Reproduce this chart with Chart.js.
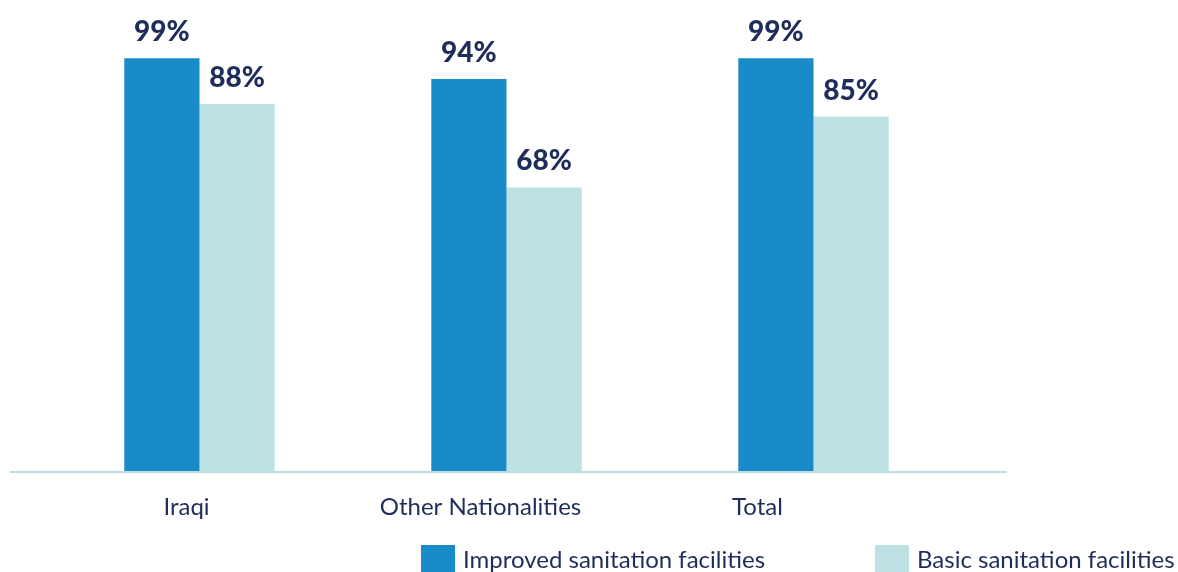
<!DOCTYPE html>
<html>
<head>
<meta charset="utf-8">
<script src="https://cdn.jsdelivr.net/npm/chart.js@4/dist/chart.umd.min.js"></script>
<style>
  html, body { margin: 0; padding: 0; background: #fff; overflow: hidden; }
  #wrap { position: relative; width: 1178px; height: 572px; }
</style>
</head>
<body>
<div id="wrap"><canvas id="barChart"></canvas></div>
<script>
// data
const categories = ['Iraqi', 'Other Nationalities', 'Total'];
const improvedValues = [99, 94, 99];
const basicValues = [88, 68, 85];
const seriesNames = ['Improved sanitation facilities', 'Basic sanitation facilities'];

const navy = '#1f2d5a';
const blue = '#1a8bc9';
const teal = '#bee1e3';
const fontFamily = 'Lato, "Open Sans", sans-serif';

// category labels sit a bit left of the bar pairs in the original
const labelShift = [-13, -26, -56];

// value labels above each bar
const valueLabels = {
  id: 'valueLabels',
  afterDatasetsDraw(chart) {
    const ctx = chart.ctx;
    ctx.save();
    ctx.fillStyle = navy;
    ctx.font = '900 28px ' + fontFamily;
    ctx.textAlign = 'center';
    ctx.textBaseline = 'bottom';
    chart.data.datasets.forEach((ds, i) => {
      chart.getDatasetMeta(i).data.forEach((bar, j) => {
        ctx.fillText(ds.data[j] + '%', bar.x, bar.y - 12);
      });
    });
    ctx.restore();
  }
};

// baseline, category labels and legend
const axisAndLegend = {
  id: 'axisAndLegend',
  afterDraw(chart) {
    const ctx = chart.ctx;
    const area = chart.chartArea;
    const xScale = chart.scales.x;
    ctx.save();

    ctx.strokeStyle = '#b9dfe1';
    ctx.lineWidth = 2;
    ctx.beginPath();
    ctx.moveTo(10, area.bottom + 1);
    ctx.lineTo(1007, area.bottom + 1);
    ctx.stroke();

    ctx.fillStyle = navy;
    ctx.font = '24px ' + fontFamily;
    ctx.textAlign = 'center';
    ctx.textBaseline = 'middle';
    categories.forEach((c, i) => {
      ctx.fillText(c, xScale.getPixelForValue(i) + labelShift[i], area.bottom + 36);
    });

    const legendX = [421, 875];
    ctx.textAlign = 'left';
    chart.data.datasets.forEach((ds, i) => {
      ctx.fillStyle = ds.backgroundColor;
      ctx.fillRect(legendX[i], 545, 34, 34);
      ctx.fillStyle = navy;
      ctx.fillText(ds.label, legendX[i] + 42, 560);
    });

    ctx.restore();
  }
};

new Chart(document.getElementById('barChart').getContext('2d'), {
  type: 'bar',
  data: {
    labels: categories,
    datasets: [
      { label: seriesNames[0], data: improvedValues, backgroundColor: blue },
      { label: seriesNames[1], data: basicValues, backgroundColor: teal }
    ]
  },
  options: {
    responsive: true,
    maintainAspectRatio: false,
    animation: false,
    layout: { padding: { top: 54, bottom: 101, left: 46, right: 211 } },
    datasets: { bar: { categoryPercentage: 0.49, barPercentage: 1 } },
    scales: {
      x: { display: false },
      y: { display: false, min: 0, max: 100 }
    },
    plugins: {
      legend: { display: false },
      tooltip: { enabled: false }
    }
  },
  plugins: [valueLabels, axisAndLegend]
});
</script>
</body>
</html>
